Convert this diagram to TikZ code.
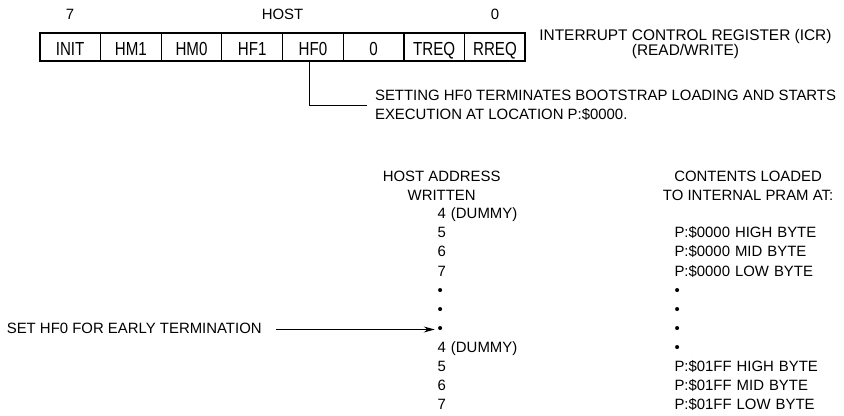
\documentclass[tikz,border=0pt]{standalone}
\usepackage{fontspec}
\usepackage{tikz}
\usetikzlibrary{arrows.meta, positioning}
\setmainfont{Liberation Sans}
\newfontfamily\cellfont[FakeStretch=0.8]{Liberation Sans}

\begin{document}
\begin{tikzpicture}[x=1pt, y=-1pt,
  every node/.style={font=\fontsize{15}{19}\selectfont},
  cell/.style={draw, line width=1.2pt, minimum width=61pt, minimum height=28pt,
    inner sep=0pt, outer sep=0pt, text height=17.5pt, text depth=0pt,
    font=\cellfont\fontsize{19}{19}\selectfont},
  frame/.style={line width=2pt},
  bitnum/.style={inner sep=0pt, text height=10.7pt, text depth=0pt},
  addr_row/.style={text width=84pt, align=left, inner sep=0pt, outer sep=0pt,
    minimum height=19.2pt, text height=10.7pt, text depth=3pt},
  pram_row/.style={addr_row, text width=150pt},
  head_style/.style={align=center, inner sep=0pt, font=\fontsize{15}{19.5}\selectfont},
  arrow/.style={-{Stealth[length=11pt, width=6pt]}, line width=1pt},
  line/.style={line width=1pt}
]
  \fill[white] (0,0) rectangle (844,417);

  % ICR register
  \node[cell] (init) at (70.5,47) {INIT};
  \node[cell, right=0pt of init] (hm1) {HM1};
  \node[cell, right=0pt of hm1] (hm0) {HM0};
  \node[cell, right=0pt of hm0] (hf1) {HF1};
  \node[cell, right=0pt of hf1] (hf0) {HF0};
  \node[cell, right=0pt of hf0] (zero) {0};
  \node[cell, right=0pt of zero] (treq) {TREQ};
  \node[cell, right=0pt of treq] (rreq) {RREQ};
  \draw[frame] (init.north west) rectangle (rreq.south east);

  \node[bitnum, above=13pt of init] (bit7) {7};
  \node[bitnum, above=13pt of hf1.north east] (host) {HOST};
  \node[bitnum, above=13pt of rreq] (bit0) {0};
  \node[align=center, inner sep=0pt, font=\fontsize{15.5}{15}\selectfont,
    right=14pt of rreq, yshift=3pt] (icr) {INTERRUPT CONTROL REGISTER (ICR)\\(READ/WRITE)};

  \node[align=left, anchor=west, inner xsep=8pt, inner ysep=0pt, outer sep=0pt] (setnote) at (369,106)
    {SETTING HF0 TERMINATES BOOTSTRAP LOADING AND STARTS\\EXECUTION AT LOCATION P:\$0000.};
  \draw[line] ([xshift=-3pt]hf0.south) |- (setnote.west);

  % column headings
  \node[head_style] (hdraddr) at (444,187) {HOST ADDRESS\\WRITTEN};
  \node[head_style] (hdrpram) at (752,187) {CONTENTS LOADED\\TO INTERNAL PRAM AT:};

  % host addresses
  \node[addr_row] (a4) at (482,216) {4 (DUMMY)};
  \node[addr_row, below=0pt of a4] (a5) {5};
  \node[addr_row, below=0pt of a5] (a6) {6};
  \node[addr_row, below=0pt of a6] (a7) {7};
  \node[addr_row, below=0pt of a7] (adot1) {•};
  \node[addr_row, below=0pt of adot1] (adot2) {•};
  \node[addr_row, below=0pt of adot2] (adot3) {•};
  \node[addr_row, below=0pt of adot3] (b4) {4 (DUMMY)};
  \node[addr_row, below=0pt of b4] (b5) {5};
  \node[addr_row, below=0pt of b5] (b6) {6};
  \node[addr_row, below=0pt of b6] (b7) {7};

  % PRAM contents
  \node[pram_row, right=154pt of a5] (p0high) {P:\$0000 HIGH BYTE};
  \node[pram_row, below=0pt of p0high] (p0mid) {P:\$0000 MID BYTE};
  \node[pram_row, below=0pt of p0mid] (p0low) {P:\$0000 LOW BYTE};
  \node[pram_row, below=0pt of p0low] (pdot1) {•};
  \node[pram_row, below=0pt of pdot1] (pdot2) {•};
  \node[pram_row, below=0pt of pdot2] (pdot3) {•};
  \node[pram_row, below=0pt of pdot3] (pdot4) {•};
  \node[pram_row, below=0pt of pdot4] (pfhigh) {P:\$01FF HIGH BYTE};
  \node[pram_row, below=0pt of pfhigh] (pfmid) {P:\$01FF MID BYTE};
  \node[pram_row, below=0pt of pfmid] (pflow) {P:\$01FF LOW BYTE};

  \node[inner sep=0pt, outer sep=0pt, text height=10.7pt, text depth=3pt, left=177pt of adot3] (early)
    {SET HF0 FOR EARLY TERMINATION};
  \draw[arrow, shorten <=14pt, shorten >=3pt] (early.east) -- (adot3.west);

\end{tikzpicture}
\end{document}
